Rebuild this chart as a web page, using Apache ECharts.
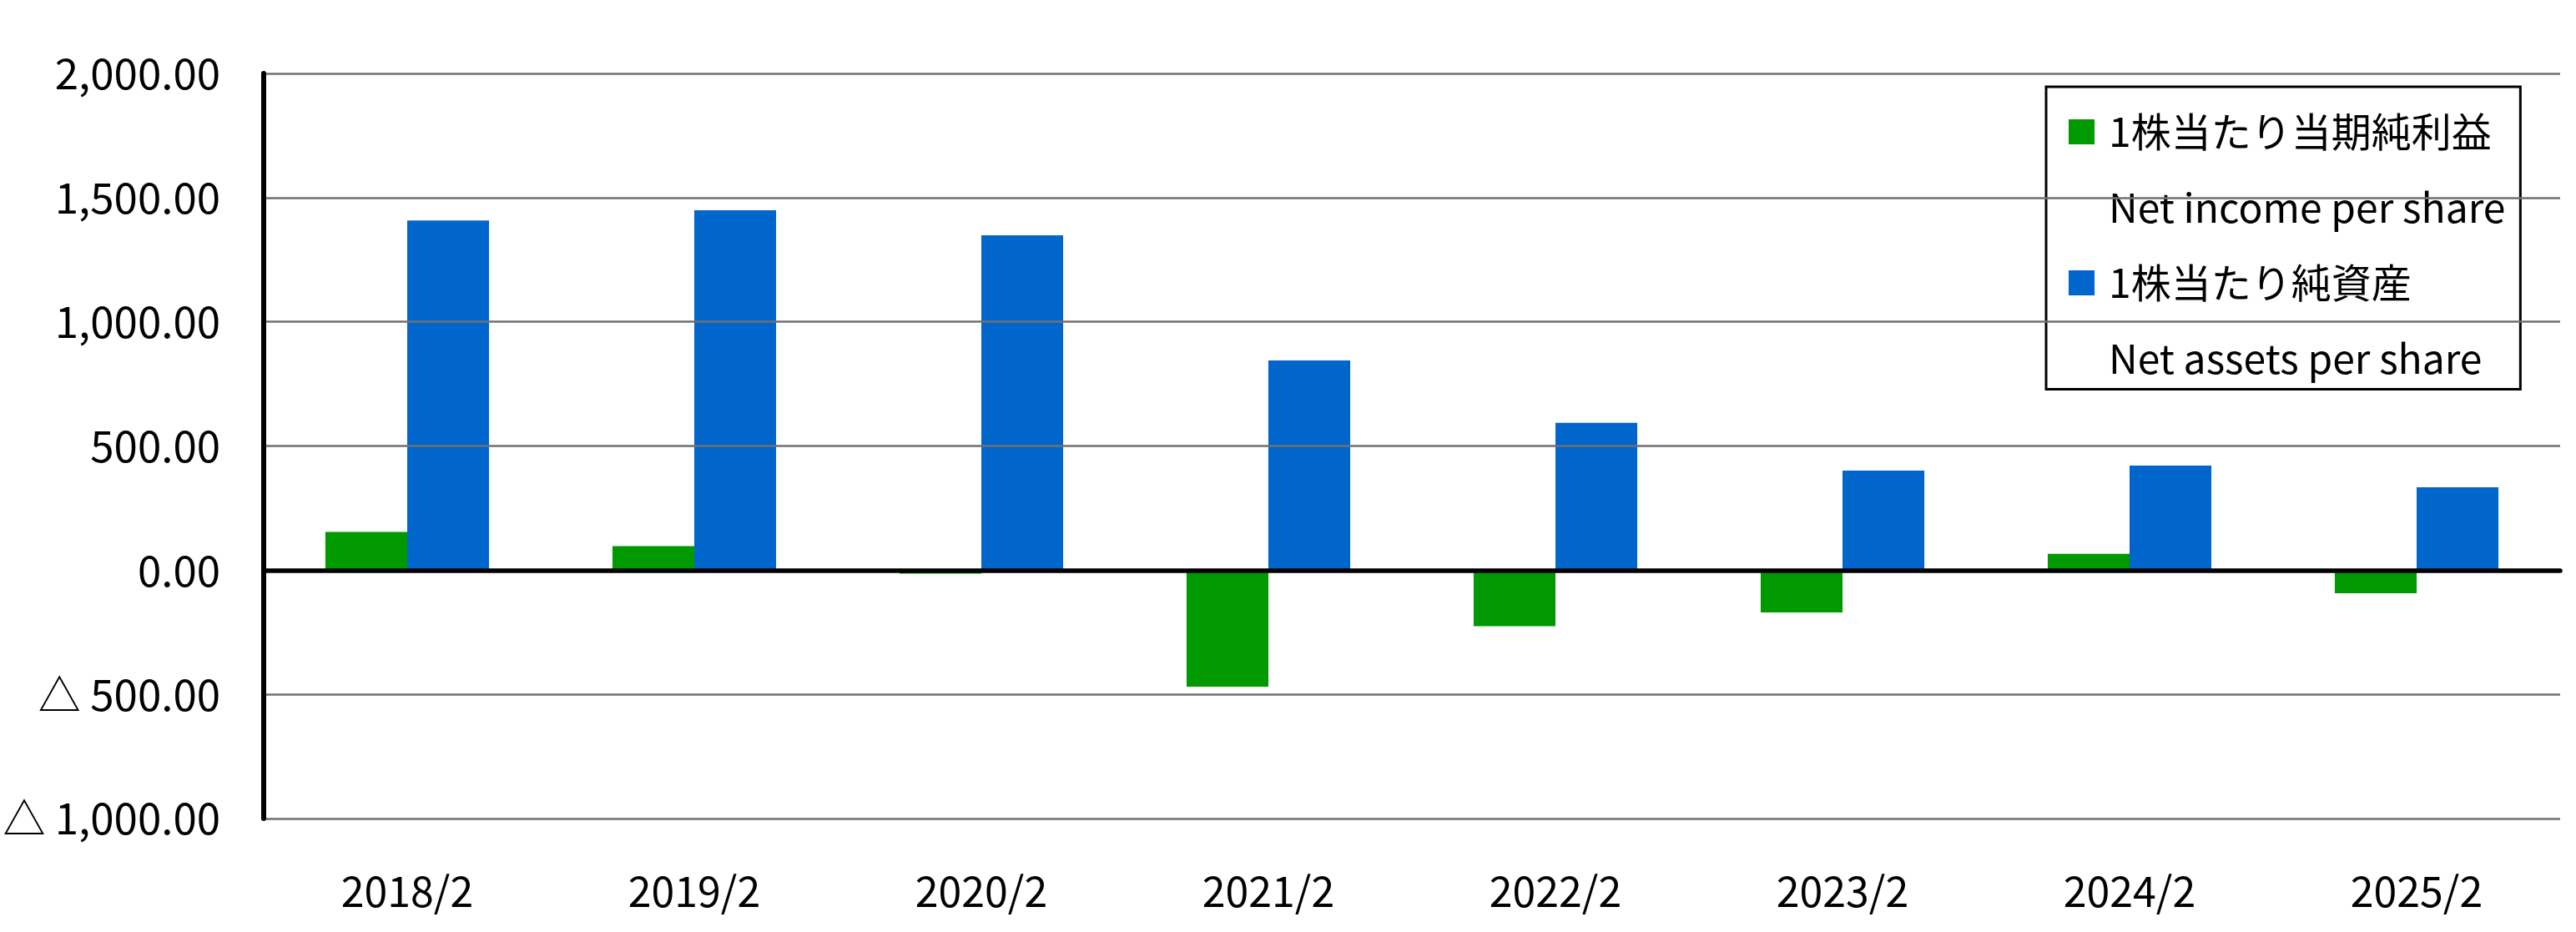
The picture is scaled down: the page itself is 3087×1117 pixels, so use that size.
<!DOCTYPE html>
<html>
<head>
<meta charset="utf-8">
<script src="https://cdn.jsdelivr.net/npm/echarts@6/dist/echarts.min.js"></script>
<style>
html,body{margin:0;padding:0;background:#fff;}
#chart{width:3087px;height:1117px;}
</style>
</head>
<body>
<div id="chart"></div>
<script>
const categories = ['2018/2','2019/2','2020/2','2021/2','2022/2','2023/2','2024/2','2025/2'];
const netIncomePerShare = [154, 97, -14, -469, -226, -170, 66, -93];
const netAssetsPerShare = [1408, 1449, 1348, 844, 593, 401, 421, 334];
const yTicks = [-1000, -500, 0, 500, 1000, 1500, 2000];
const yTickLabels = ['△ 1,000.00', '△ 500.00', '0.00', '500.00', '1,000.00', '1,500.00', '2,000.00'];
const seriesNamesJa = ['1株当たり当期純利益', '1株当たり純資産'];
const seriesNamesEn = ['Net income per share', 'Net assets per share'];

const FONT = '"Noto Sans CJK JP", "Noto Sans", sans-serif';
const chart = echarts.init(document.getElementById('chart'));
chart.setOption({
  animation: false,
  backgroundColor: '#ffffff',
  grid: { left: 316, right: 19, top: 88, bottom: 136, containLabel: false },
  legend: {
    orient: 'vertical',
    left: 2452,
    top: 104,
    padding: [30, 18, 13, 27],
    borderColor: '#000',
    borderWidth: 3,
    backgroundColor: '#fff',
    itemWidth: 31,
    itemHeight: 30,
    itemGap: 42.5,
    selectedMode: false,
    textStyle: { fontFamily: FONT, fontSize: 48, lineHeight: 48, color: '#000', padding: [0, 0, 0, 12] },
    data: [
      { name: seriesNamesJa[0], icon: 'rect' },
      { name: seriesNamesEn[0], icon: 'none' },
      { name: seriesNamesJa[1], icon: 'rect' },
      { name: seriesNamesEn[1], icon: 'none' }
    ]
  },
  xAxis: [
    {
      type: 'category',
      data: categories,
      position: 'bottom',
      axisLine: { show: false, onZero: false },
      axisTick: { show: false },
      splitLine: { show: false },
      axisLabel: { fontFamily: FONT, fontSize: 50, lineHeight: 50, color: '#000', margin: 62 }
    },
    {
      type: 'category',
      data: categories,
      z: 5,
      axisLine: { show: true, onZero: true, lineStyle: { color: '#000', width: 5.5 } },
      axisTick: { show: false },
      axisLabel: { show: false },
      splitLine: { show: false }
    }
  ],
  yAxis: {
    type: 'value',
    min: -1000,
    max: 2000,
    interval: 500,
    z: 5,
    axisLine: { show: true, lineStyle: { color: '#000', width: 6 } },
    axisTick: { show: false },
    splitLine: { show: true, lineStyle: { color: '#707070', width: 2.5 } },
    axisLabel: {
      fontFamily: FONT, fontSize: 51, color: '#000', margin: 52,
      formatter: function (v) { const i = yTicks.indexOf(v); return i >= 0 ? yTickLabels[i] : ''; }
    }
  },
  series: [
    {
      name: seriesNamesJa[0], type: 'bar', xAxisIndex: 0,
      data: netIncomePerShare, barWidth: '28.5%', barGap: '0%',
      itemStyle: { color: '#009900' }
    },
    {
      name: seriesNamesJa[1], type: 'bar', xAxisIndex: 0,
      data: netAssetsPerShare, barWidth: '28.5%', barGap: '0%',
      itemStyle: { color: '#0066CC' }
    },
    { name: seriesNamesEn[0], type: 'line', xAxisIndex: 0, data: [] },
    { name: seriesNamesEn[1], type: 'line', xAxisIndex: 0, data: [] }
  ]
});
</script>
</body>
</html>
